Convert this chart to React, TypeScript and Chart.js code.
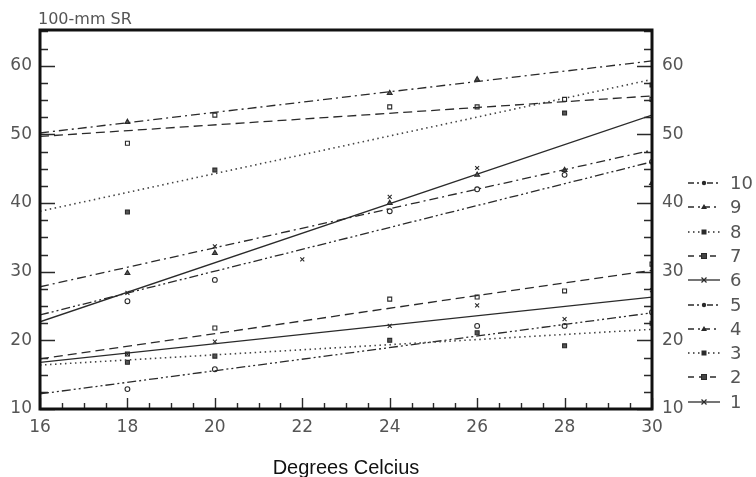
import React, { useEffect, useRef } from 'react';
import { Chart, registerables } from 'chart.js';
Chart.register(...registerables);

// ---- data ----
const TEMPS = [16, 18, 20, 22, 24, 26, 28, 30];
const FIT_X = [16, 30];

const S1 = [null, 18.0, 19.8, null, 22.1, 25.1, 23.1, 27.3];
const S2 = [null, 18.0, 21.8, null, 26.0, 26.3, 27.2, 31.1];
const S3 = [null, 16.8, 17.7, null, 20.0, 21.1, 19.2, 22.5];
const S4 = [null, 29.8, 32.7, null, 40.0, 44.1, 44.8, 42.9];
const S5 = [null, 12.9, 15.8, null, null, 22.1, 22.1, 24.1];
const S6 = [null, 26.9, 33.7, 31.8, 40.9, 45.1, null, null];
const S7 = [null, 48.7, 52.8, null, 54.0, 54.0, 55.1, 55.1];
const S8 = [null, 38.7, 44.8, null, null, null, 53.1, 57.2];
const S9 = [null, 51.8, null, null, 56.0, 58.0, null, null];
const S10 = [null, 25.7, 28.8, null, 38.8, 42.0, 44.1, 46.0];

const FIT1 = [16.8, 26.3];
const FIT2 = [17.3, 30.2];
const FIT3 = [16.4, 21.6];
const FIT4 = [27.8, 47.7];
const FIT5 = [12.2, 24.0];
const FIT6 = [22.7, 52.8];
const FIT7 = [49.7, 55.6];
const FIT8 = [38.8, 58.0];
const FIT9 = [50.2, 60.7];
const FIT10 = [23.7, 46.0];

const SERIES_LABELS = ['1', '2', '3', '4', '5', '6', '7', '8', '9', '10'];
const X_TITLE = 'Degrees Celcius';
const Y_TITLE = '100-mm SR';

// ---- styles ----
const DASH: Record<string, number[]> = {
  solid: [],
  dashed: [9, 5],
  dotted: [1.5, 3.5],
  dashDot: [9, 4, 2, 4],
  dashDotDot: [9, 3, 2, 3, 2, 3],
};

type Marker = 'crossRot' | 'rect' | 'rectFill' | 'triangle' | 'circle';
const SERIES = [
  { label: SERIES_LABELS[0], pts: S1, fit: FIT1, dash: 'solid', marker: 'crossRot' as Marker },
  { label: SERIES_LABELS[1], pts: S2, fit: FIT2, dash: 'dashed', marker: 'rect' as Marker },
  { label: SERIES_LABELS[2], pts: S3, fit: FIT3, dash: 'dotted', marker: 'rectFill' as Marker },
  { label: SERIES_LABELS[3], pts: S4, fit: FIT4, dash: 'dashDot', marker: 'triangle' as Marker },
  { label: SERIES_LABELS[4], pts: S5, fit: FIT5, dash: 'dashDotDot', marker: 'circle' as Marker },
  { label: SERIES_LABELS[5], pts: S6, fit: FIT6, dash: 'solid', marker: 'crossRot' as Marker },
  { label: SERIES_LABELS[6], pts: S7, fit: FIT7, dash: 'dashed', marker: 'rect' as Marker },
  { label: SERIES_LABELS[7], pts: S8, fit: FIT8, dash: 'dotted', marker: 'rectFill' as Marker },
  { label: SERIES_LABELS[8], pts: S9, fit: FIT9, dash: 'dashDot', marker: 'triangle' as Marker },
  { label: SERIES_LABELS[9], pts: S10, fit: FIT10, dash: 'dashDotDot', marker: 'circle' as Marker },
];

const INK = '#2a2a2a';
const LABEL_COLOR = '#555';

const frameTicks = {
  id: 'frameTicks',
  afterDatasetsDraw(chart: any) {
    const { ctx, chartArea: a, scales } = chart;
    const x = scales.x;
    const y = scales.y;
    ctx.save();
    ctx.strokeStyle = INK;
    ctx.lineWidth = 1.4;
    ctx.beginPath();
    for (let v = 16; v <= 30.0001; v += 0.5) {
      const px = Math.round(x.getPixelForValue(v)) + 0.5;
      const major = Math.abs(v / 2 - Math.round(v / 2)) < 1e-6;
      const len = major ? 11 : 6;
      ctx.moveTo(px, a.bottom);
      ctx.lineTo(px, a.bottom - len);
    }
    for (let v = 10; v <= 65.0001; v += 2.5) {
      const py = Math.round(y.getPixelForValue(v)) + 0.5;
      const major = Math.abs(v / 10 - Math.round(v / 10)) < 1e-6;
      const len = major ? 15 : 8;
      ctx.moveTo(a.left, py);
      ctx.lineTo(a.left + len, py);
      ctx.moveTo(a.right, py);
      ctx.lineTo(a.right - len, py);
    }
    ctx.stroke();
    ctx.lineWidth = 3;
    ctx.strokeStyle = '#111';
    ctx.strokeRect(a.left, a.top, a.right - a.left, a.bottom - a.top);
    ctx.restore();
  },
};

function pointStyleFor(m: Marker) {
  if (m === 'rectFill') return 'rect';
  return m;
}

function LegendMarker({ marker }: { marker: Marker }) {
  const cx = 18, cy = 10;
  switch (marker) {
    case 'crossRot':
      return (
        <g stroke={INK} strokeWidth={1.2}>
          <line x1={cx - 2.5} y1={cy - 2.5} x2={cx + 2.5} y2={cy + 2.5} />
          <line x1={cx - 2.5} y1={cy + 2.5} x2={cx + 2.5} y2={cy - 2.5} />
        </g>
      );
    case 'rect':
      return <rect x={cx - 2.5} y={cy - 2.5} width={5} height={5} fill="#444" stroke={INK} strokeWidth={1} />;
    case 'rectFill':
      return <rect x={cx - 2.5} y={cy - 2.5} width={5} height={5} fill={INK} />;
    case 'triangle':
      return <polygon points={`${cx},${cy - 3} ${cx + 3},${cy + 2} ${cx - 3},${cy + 2}`} fill={INK} />;
    default:
      return <circle cx={cx} cy={cy} r={2.2} fill={INK} />;
  }
}

export default function App() {
  const ref = useRef<HTMLCanvasElement | null>(null);

  useEffect(() => {
    if (!ref.current) return;
    const datasets: any[] = [];
    SERIES.forEach((s) => {
      datasets.push({
        label: 'fit ' + s.label,
        data: FIT_X.map((x, i) => ({ x, y: s.fit[i] })),
        showLine: true,
        borderColor: s.dash === 'dotted' ? '#444' : INK,
        borderWidth: s.dash === 'dotted' ? 1.6 : 1.3,
        borderDash: DASH[s.dash],
        pointRadius: 0,
        fill: false,
      });
      datasets.push({
        label: s.label,
        data: TEMPS.map((x, i) => (s.pts[i] == null ? null : { x, y: s.pts[i] })).filter(Boolean),
        showLine: false,
        pointStyle: pointStyleFor(s.marker),
        pointRadius: s.marker === 'circle' ? 2.4 : 2.8,
        borderWidth: 1.1,
        borderColor: INK,
        backgroundColor: s.marker === 'rectFill' || s.marker === 'triangle' ? '#555' : '#fff',
      });
    });

    const tickFont = { family: 'DejaVu Sans', size: 17 };
    const chart = new Chart(ref.current, {
      type: 'scatter',
      data: { datasets },
      plugins: [frameTicks],
      options: {
        animation: false,
        responsive: false,
        layout: { padding: { top: 30, left: 0, right: 0, bottom: 0 } },
        plugins: { legend: { display: false }, tooltip: { enabled: false } },
        scales: {
          x: {
            type: 'linear',
            min: 16,
            max: 30,
            ticks: { stepSize: 2, font: tickFont, color: LABEL_COLOR, padding: 8, maxRotation: 0 },
            grid: { display: false, drawTicks: false },
            border: { display: false },
            title: {
              display: true,
              text: X_TITLE,
              font: { family: 'Liberation Sans', size: 20 },
              color: '#111',
              padding: { top: 0, bottom: -3 },
            },
            afterFit(s: any) { s.height = 68; },
          },
          y: {
            type: 'linear',
            position: 'left',
            min: 10,
            max: 65.2,
            ticks: { stepSize: 10, includeBounds: false, font: tickFont, color: LABEL_COLOR, padding: 8 },
            grid: { display: false, drawTicks: false },
            border: { display: false },
            afterFit(s: any) { s.width = 40; },
          },
          y2: {
            type: 'linear',
            position: 'right',
            min: 10,
            max: 65.2,
            ticks: { stepSize: 10, includeBounds: false, font: tickFont, color: LABEL_COLOR, padding: 10 },
            grid: { display: false, drawTicks: false },
            border: { display: false },
            afterFit(s: any) { s.width = 104; },
          },
        },
      } as any,
    });
    return () => chart.destroy();
  }, []);

  const legendOrder = [...SERIES].reverse();

  return (
    <div style={{ position: 'absolute', left: 0, top: 0, width: 756, height: 477, background: '#fff' }}>
      <canvas ref={ref} width={756} height={477} style={{ display: 'block' }} />
      <div
        style={{
          position: 'absolute', left: 38, top: 10, fontFamily: 'DejaVu Sans', fontSize: 16,
          lineHeight: '18px', color: LABEL_COLOR, whiteSpace: 'pre',
        }}
      >
        {Y_TITLE}
      </div>
      {legendOrder.map((s, i) => (
        <div
          key={s.label}
          style={{
            position: 'absolute', left: 686, top: 173 + i * 24.3, height: 20,
            display: 'flex', alignItems: 'center',
          }}
        >
          <svg width={36} height={20} style={{ display: 'block' }}>
            <line
              x1={2} y1={10} x2={34} y2={10}
              stroke={INK} strokeWidth={1.3}
              strokeDasharray={DASH[s.dash].length ? DASH[s.dash].map((d) => (d === 9 ? 6 : d)).join(' ') : undefined}
            />
            <LegendMarker marker={s.marker} />
          </svg>
          <span
            style={{
              marginLeft: 8, fontFamily: 'DejaVu Sans', fontSize: 18, lineHeight: '20px', color: LABEL_COLOR,
            }}
          >
            {s.label}
          </span>
        </div>
      ))}
    </div>
  );
}
